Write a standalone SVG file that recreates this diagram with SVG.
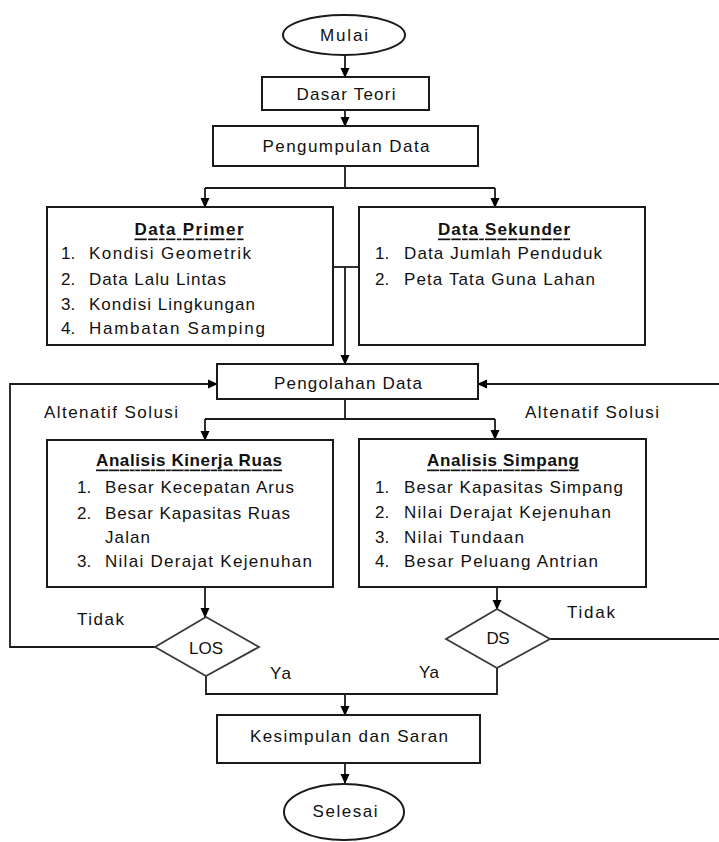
<svg xmlns="http://www.w3.org/2000/svg" width="719" height="842" viewBox="0 0 719 842">
<defs>
<marker id="arr" markerWidth="10" markerHeight="10" refX="9" refY="5" orient="auto" markerUnits="userSpaceOnUse">
<path d="M0,0.5 L10,5 L0,9.5 Z" fill="#000"/>
</marker>
<style>
.box{fill:#fff;stroke:#1a1a1a;stroke-width:2}
.dia{fill:#fff;stroke:#3a3a3a;stroke-width:1.8}
.ln{fill:none;stroke:#1a1a1a;stroke-width:1.8}
.ar{fill:none;stroke:#1a1a1a;stroke-width:1.8;marker-end:url(#arr)}
text{font-family:"Liberation Sans",Arial,sans-serif;font-size:17px;fill:#111;dominant-baseline:central}
.c{text-anchor:middle}
.h{font-weight:bold;text-decoration:underline}
</style>
</defs>
<rect width="719" height="842" fill="#fff"/>

<g id="connectors">
<path class="ar" d="M345,55 V77"/>
<path class="ar" d="M345,110 V126"/>
<path class="ln" d="M345,166 V188 M205,188 H495"/>
<path class="ar" d="M205,188 V207"/>
<path class="ar" d="M495,188 V207"/>
<path class="ln" d="M333,267 H359"/>
<path class="ar" d="M345,267 V364"/>
<path class="ln" d="M345,399 V419 M205,419 H495"/>
<path class="ar" d="M205,419 V440"/>
<path class="ar" d="M495,419 V439"/>
<path class="ar" d="M205,587 V617"/>
<path class="ar" d="M497,587 V609"/>
<path class="ar" d="M155,647 H10 V384 H217"/>
<path class="ar" d="M550,639 H730 V384 H478"/>
<path class="ln" d="M206,676 V694 H497 V668"/>
<path class="ar" d="M345,694 V715"/>
<path class="ar" d="M345,763 V783"/>
</g>

<g id="mulai">
<ellipse class="box" cx="344" cy="35" rx="61" ry="20" stroke-width="1.5"/>
<text class="c" x="344" y="35" textLength="48">Mulai</text>
</g>

<g id="dasar-teori">
<rect class="box" x="262" y="77" width="167" height="33"/>
<text class="c" x="346" y="94" textLength="99">Dasar Teori</text>
</g>

<g id="pengumpulan-data">
<rect class="box" x="213" y="126" width="265" height="40"/>
<text class="c" x="346" y="146" textLength="167">Pengumpulan Data</text>
</g>

<g id="data-primer">
<rect class="box" x="47" y="207" width="286" height="138"/>
<text class="c h" x="189" y="229" textLength="109">Data Primer</text>
<text x="61" y="253">1.</text><text x="89" y="253" textLength="162">Kondisi Geometrik</text>
<text x="61" y="279">2.</text><text x="89" y="279" textLength="137">Data Lalu Lintas</text>
<text x="61" y="304">3.</text><text x="89" y="304" textLength="166">Kondisi Lingkungan</text>
<text x="61" y="328">4.</text><text x="89" y="328" textLength="176">Hambatan Samping</text>
</g>

<g id="data-sekunder">
<rect class="box" x="359" y="207" width="286" height="138"/>
<text class="c h" x="504" y="229" textLength="132">Data Sekunder</text>
<text x="375" y="253">1.</text><text x="404" y="253" textLength="198">Data Jumlah Penduduk</text>
<text x="375" y="279">2.</text><text x="404" y="279" textLength="191">Peta Tata Guna Lahan</text>
</g>

<g id="pengolahan-data">
<rect class="box" x="217" y="364" width="261" height="35"/>
<text class="c" x="348" y="383" textLength="148">Pengolahan Data</text>
</g>

<g id="labels-alternatif">
<text x="44" y="412" textLength="134">Altenatif Solusi</text>
<text x="525" y="412" textLength="134">Altenatif Solusi</text>
</g>

<g id="analisis-ruas">
<rect class="box" x="47" y="440" width="286" height="147"/>
<text class="c h" x="189" y="460" textLength="186">Analisis Kinerja Ruas</text>
<text x="77" y="487">1.</text><text x="105" y="487" textLength="189">Besar Kecepatan Arus</text>
<text x="77" y="513">2.</text><text x="105" y="513" textLength="185">Besar Kapasitas Ruas</text>
<text x="105" y="537" textLength="45">Jalan</text>
<text x="77" y="561">3.</text><text x="105" y="561" textLength="207">Nilai Derajat Kejenuhan</text>
</g>

<g id="analisis-simpang">
<rect class="box" x="359" y="439" width="287" height="148"/>
<text class="c h" x="503" y="460" textLength="152">Analisis Simpang</text>
<text x="375" y="487">1.</text><text x="404" y="487" textLength="219">Besar Kapasitas Simpang</text>
<text x="375" y="512">2.</text><text x="404" y="512" textLength="207">Nilai Derajat Kejenuhan</text>
<text x="375" y="537">3.</text><text x="404" y="537" textLength="120">Nilai Tundaan</text>
<text x="375" y="561">4.</text><text x="404" y="561" textLength="194">Besar Peluang Antrian</text>
</g>

<g id="los">
<polygon class="dia" points="206,617 259,647 206,676 155,647"/>
<text class="c" x="206" y="648" textLength="34">LOS</text>
</g>

<g id="ds">
<polygon class="dia" points="497,609 550,639 497,668 446,639"/>
<text class="c" x="498" y="638" textLength="23">DS</text>
</g>

<g id="decision-labels">
<text x="77" y="619" textLength="47">Tidak</text>
<text x="567" y="612" textLength="48">Tidak</text>
<text x="270" y="673" textLength="21">Ya</text>
<text x="419" y="672" textLength="20">Ya</text>
</g>

<g id="kesimpulan">
<rect class="box" x="217" y="715" width="263" height="48"/>
<text class="c" x="349" y="736" textLength="198">Kesimpulan dan Saran</text>
</g>

<g id="selesai">
<ellipse class="box" cx="344" cy="812" rx="60" ry="28" stroke-width="1.5"/>
<text class="c" x="345" y="811" textLength="65">Selesai</text>
</g>
</svg>
